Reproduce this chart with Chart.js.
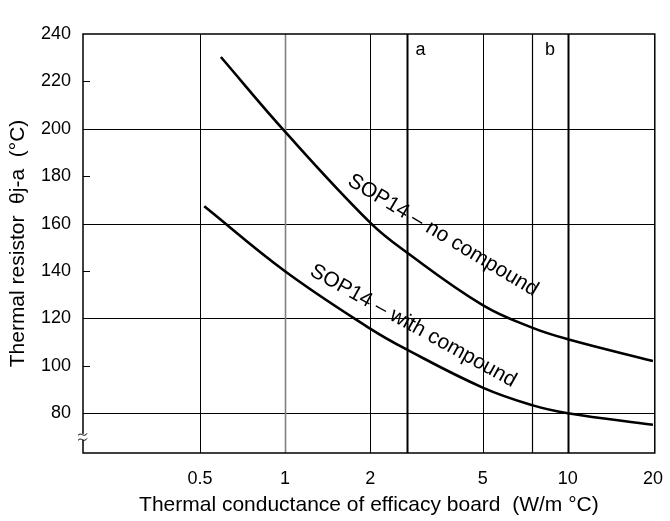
<!DOCTYPE html>
<html>
<head>
<meta charset="utf-8">
<script src="https://cdn.jsdelivr.net/npm/chart.js@4"></script>
<style>
  html, body { margin: 0; padding: 0; background: #fff; }
  #wrap { width: 670px; height: 521px; }
</style>
</head>
<body>
<div id="wrap"><canvas id="thermalChart"></canvas></div>
<script>
// data
const xTicks = [0.5, 1, 2, 5, 10, 20];
const yTicks = [80, 100, 120, 140, 160, 180, 200, 220, 240];
const noCompoundX = [0.593, 1, 2, 2.69, 5, 7.47, 10, 20];
const noCompoundY = [230.3, 198.8, 160.4, 147.9, 125.6, 116.1, 111.2, 102];
const withCompoundX = [0.518, 1, 2, 2.69, 5, 7.47, 10, 20];
const withCompoundY = [167.3, 139.9, 115.7, 106.9, 90.8, 83.4, 80, 75.1];
const markA = 2.69;
const markB = 7.47;

const FONT = 'Liberation Sans, Arial, sans-serif';

function toPoints(xs, ys) {
    return xs.map((x, i) => ({ x: x, y: ys[i] }));
}

// grid, marker lines, axis break and curve labels
const decor = {
    id: 'decor',
    beforeDatasetsDraw(chart) {
        const ctx = chart.ctx;
        const xs = chart.scales.x;
        const ys = chart.scales.y;
        const area = chart.chartArea;
        ctx.save();
        // horizontal grid every 40
        ctx.strokeStyle = '#000';
        ctx.lineWidth = 1;
        [80, 120, 160, 200].forEach(v => {
            const py = Math.round(ys.getPixelForValue(v)) + 0.5;
            ctx.beginPath();
            ctx.moveTo(area.left, py);
            ctx.lineTo(area.right, py);
            ctx.stroke();
        });
        // short ticks for the in-between values
        [100, 140, 180, 220].forEach(v => {
            const py = Math.round(ys.getPixelForValue(v)) + 0.5;
            ctx.beginPath();
            ctx.moveTo(area.left, py);
            ctx.lineTo(area.left + 7, py);
            ctx.stroke();
        });
        // vertical grid
        const vLines = [
            { v: 0.5, w: 1, c: '#000' },
            { v: 1, w: 1.6, c: '#808080' },
            { v: 2, w: 1, c: '#000' },
            { v: 5, w: 1, c: '#000' },
            { v: markA, w: 2, c: '#000' },
            { v: markB, w: 1.2, c: '#000' },
            { v: 10, w: 2, c: '#000' }
        ];
        vLines.forEach(l => {
            const px = Math.round(xs.getPixelForValue(l.v)) + 0.5;
            ctx.strokeStyle = l.c;
            ctx.lineWidth = l.w;
            ctx.beginPath();
            ctx.moveTo(px, area.top);
            ctx.lineTo(px, area.bottom);
            ctx.stroke();
        });
        // frame
        ctx.strokeStyle = '#000';
        ctx.lineWidth = 1.5;
        ctx.strokeRect(area.left, area.top, area.right - area.left, area.bottom - area.top);
        ctx.restore();
    },
    afterDatasetsDraw(chart) {
        const ctx = chart.ctx;
        const xs = chart.scales.x;
        const ys = chart.scales.y;
        const area = chart.chartArea;
        ctx.save();
        ctx.fillStyle = '#000';
        ctx.font = '18px ' + FONT;
        ctx.textBaseline = 'alphabetic';
        ctx.textAlign = 'left';
        ctx.fillText('a', xs.getPixelForValue(markA) + 9, area.top + 21);
        ctx.fillText('b', xs.getPixelForValue(markB) + 13, area.top + 21);

        // curve labels
        ctx.font = '21px ' + FONT;
        ctx.textAlign = 'center';
        ctx.textBaseline = 'middle';
        ctx.save();
        ctx.translate(xs.getPixelForValue(3.62), ys.getPixelForValue(155));
        ctx.rotate(31 * Math.PI / 180);
        ctx.fillText('SOP14 – no compound', 0, 0);
        ctx.restore();
        ctx.save();
        ctx.translate(xs.getPixelForValue(2.84), ys.getPixelForValue(116.8));
        ctx.rotate(29 * Math.PI / 180);
        ctx.fillText('SOP14 – with compound', 0, 0);
        ctx.restore();

        // axis break mark
        const by = ys.getPixelForValue(70);
        const bx = area.left;
        ctx.fillStyle = '#fff';
        ctx.fillRect(bx - 2, by - 3, 4, 6);
        ctx.strokeStyle = '#000';
        ctx.lineWidth = 1;
        [-2.5, 2.5].forEach(off => {
            ctx.beginPath();
            ctx.moveTo(bx - 5, by + off + 1);
            ctx.bezierCurveTo(bx - 2, by + off - 3, bx + 1, by + off + 4, bx + 4, by + off - 1);
            ctx.stroke();
        });
        ctx.restore();
    }
};

const chartCtx = document.getElementById('thermalChart').getContext('2d');
const thermalChart = new Chart(chartCtx, {
    type: 'scatter',
    data: {
        datasets: [{
            label: 'SOP14 – no compound',
            data: toPoints(noCompoundX, noCompoundY),
            showLine: true,
            borderColor: '#000',
            borderWidth: 2.6,
            pointRadius: 0,
            tension: 0.4
        }, {
            label: 'SOP14 – with compound',
            data: toPoints(withCompoundX, withCompoundY),
            showLine: true,
            borderColor: '#000',
            borderWidth: 2.6,
            pointRadius: 0,
            tension: 0.4
        }]
    },
    options: {
        responsive: true,
        maintainAspectRatio: false,
        animation: false,
        layout: { padding: { left: 0, right: 12, top: 34, bottom: 0 } },
        plugins: {
            legend: { display: false },
            tooltip: { enabled: false }
        },
        scales: {
            x: {
                type: 'logarithmic',
                min: 0.193,
                max: 20.3,
                grid: { display: false },
                border: { display: false },
                afterBuildTicks: (axis) => {
                    axis.ticks = xTicks.map(v => ({ value: v }));
                },
                afterFit: (axis) => { axis.height = 68; },
                ticks: {
                    color: '#000',
                    font: { family: FONT, size: 18 },
                    padding: 7,
                    maxRotation: 0,
                    autoSkip: false,
                    callback: (v) => String(v)
                },
                title: {
                    display: true,
                    text: 'Thermal conductance of efficacy board  (W/m °C)',
                    color: '#000',
                    font: { family: FONT, size: 21 },
                    padding: { top: 2, bottom: 3 }
                }
            },
            y: {
                min: 63.2,
                max: 240,
                grid: { display: false },
                border: { display: false },
                afterBuildTicks: (axis) => {
                    axis.ticks = yTicks.map(v => ({ value: v }));
                },
                afterFit: (axis) => { axis.width = 83; },
                ticks: {
                    color: '#000',
                    font: { family: FONT, size: 18 },
                    padding: 4
                },
                title: {
                    display: true,
                    text: 'Thermal resistor  θj-a  (°C)',
                    color: '#000',
                    font: { family: FONT, size: 21 },
                    padding: { top: 6, bottom: 0 }
                }
            }
        }
    },
    plugins: [decor]
});
</script>
</body>
</html>
